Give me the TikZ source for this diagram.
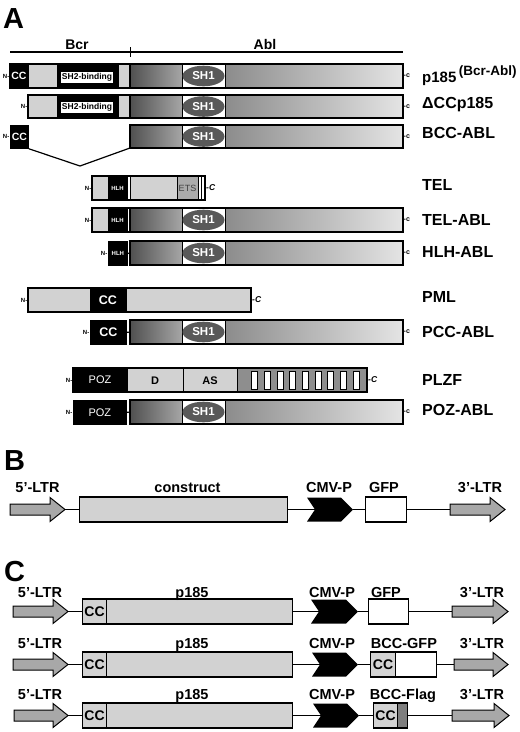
\documentclass[tikz,border=0pt]{standalone}
\usepackage{fontspec}
\setmainfont{Liberation Sans}
\definecolor{lgray}{HTML}{D2D2D2}
\definecolor{ablA}{HTML}{505050}
\definecolor{ablB}{HTML}{A6A6A6}
\definecolor{ablC}{HTML}{8C8C8C}
\definecolor{ablD}{HTML}{E4E4E4}
\definecolor{shgray}{HTML}{595959}
\definecolor{etsgray}{HTML}{ABABAB}
\definecolor{zfgray}{HTML}{8E8E8E}
\definecolor{ltrgray}{HTML}{A8A8A8}
\definecolor{flaggray}{HTML}{7E7E7E}
\tikzset{
  seg/.style={draw=black, line width=0.7pt},
  outline/.style={draw=black, line width=1.3pt},
  conn/.style={draw=black, line width=1.7pt},
  biglet/.style={anchor=base west, inner sep=0pt, font=\fontsize{29}{29}\selectfont\bfseries},
  hdr/.style={anchor=base, inner sep=0pt, font=\fontsize{14}{14}\selectfont\bfseries},
  lab/.style={anchor=base west, inner sep=0pt, font=\fontsize{16}{16}\selectfont\bfseries},
  clab/.style={anchor=base, inner sep=0pt, font=\fontsize{14.5}{14.5}\selectfont\bfseries},
  nterm/.style={anchor=east, inner sep=0.5pt, font=\fontsize{6}{6}\selectfont\bfseries},
  cterm/.style={anchor=west, inner sep=0.5pt, font=\fontsize{7}{7}\selectfont\bfseries},
  ctermC/.style={anchor=west, inner sep=1pt, font=\fontsize{8.5}{8.5}\selectfont\bfseries\itshape},
  shtxt/.style={inner sep=0pt, text=white, font=\fontsize{11.5}{11.5}\selectfont\bfseries},
  sh2box/.style={fill=white, inner sep=0pt, minimum width=52pt, minimum height=11pt, font=\fontsize{8.5}{8.5}\selectfont\bfseries},
  cctxt/.style={inner sep=0pt, text=white, font=\fontsize{10.5}{10.5}\selectfont\bfseries},
  bigcc/.style={inner sep=0pt, text=white, font=\fontsize{12.5}{12.5}\selectfont\bfseries},
  hlhtxt/.style={inner sep=0pt, text=white, font=\fontsize{6}{6}\selectfont\bfseries},
  etstxt/.style={inner sep=0pt, text=black!75, font=\fontsize{9}{9}\selectfont},
  poztxt/.style={inner sep=0pt, text=white, font=\fontsize{11}{11}\selectfont},
  dtxt/.style={inner sep=0pt, text=black, font=\fontsize{11}{11}\selectfont\bfseries},
  blkbox/.style={draw=black, fill=black, line width=0.7pt, inner sep=0pt, anchor=north west},
  gbox/.style={draw=black, line width=1.2pt, fill=lgray, inner sep=0pt, minimum height=25pt, anchor=west},
  wbox/.style={draw=black, line width=1.2pt, fill=white, inner sep=0pt, minimum height=25pt, anchor=west},
  ltrsty/.style={draw=black, line width=1pt, fill=ltrgray},
}
\newcommand\ablbar[3]{%
  \shade[left color=ablA, right color=ablB] (130,#2) rectangle (182,#3);
  \fill[white] (182,#2) rectangle (225,#3);
  \shade[left color=ablC, right color=ablD] (225,#2) rectangle (403,#3);
  \draw[seg] (182,#2) -- (182,#3) (225,#2) -- (225,#3);
  \fill[shgray] (203.5,{(#2+#3)/2}) ellipse [x radius=21pt, y radius=10.3pt];
  \node[shtxt] (#1-sh1) at (203.5,{(#2+#3)/2}) {SH1};
  \draw[outline] (130,#2) rectangle (403,#3);
  \coordinate (#1-w) at (130,{(#2+#3)/2});
  \coordinate (#1-sw) at (130,#3);
}
\newcommand\ltrarrow[4]{%
  \draw[ltrsty] (#2,{#4-5.5}) -- ({#3-15},{#4-5.5}) -- ({#3-15},{#4-12}) -- (#3,#4)
    -- ({#3-15},{#4+12}) -- ({#3-15},{#4+5.5}) -- (#2,{#4+5.5}) -- cycle;
  \coordinate (#1-w) at (#2,#4);
  \coordinate (#1-e) at (#3,#4);
}
\newcommand\cmvp[4]{%
  \fill[black] (#2,{#4-12}) -- ({#3-12},{#4-12}) -- (#3,#4) -- ({#3-12},{#4+12})
    -- (#2,{#4+12}) -- ({#2+8},#4) -- cycle;
  \coordinate (#1-w) at ({#2+8},#4);
  \coordinate (#1-e) at (#3,#4);
}
\begin{document}
\begin{tikzpicture}[x=1pt,y=-1pt]
\useasboundingbox (0,0) rectangle (520,732);
\fill[white] (0,0) rectangle (520,732);

% ================= A =================
\node[biglet] (Alet) at (3,28) {A};
\coordinate (bl0) at (10,52);
\coordinate (bl1) at (403,52);
\draw[line width=1.8pt] (bl0) -- (bl1);
\draw[line width=1pt] (130,47) -- (130,57);
\node[hdr] (bcr) at (77,49) {Bcr};
\node[hdr] (abl) at (265,49) {Abl};

% Row 1 p185
\draw[seg,fill=black] (10,64) rectangle (28,88);
\draw[seg,fill=lgray] (28,64) rectangle (57,88);
\draw[seg,fill=black] (57,64) rectangle (118,88);
\draw[seg,fill=lgray] (118,64) rectangle (130,88);
\node[sh2box] (r1sh2) at (87,77.5) {SH2-binding};
\ablbar{r1}{64}{88}
\draw[outline] (10,64) rectangle (403,88);
\node[cctxt] (r1cc) at (19,76) {CC};
\node[nterm] (r1n) at (10,76) {N-};
\node[cterm] (r1c) at (403,76) {-c};
\node[lab] (r1lab) at (422,82) {\fontsize{15}{15}\selectfont p185\,\raisebox{7pt}{\fontsize{13.5}{13.5}\selectfont(Bcr-Abl)}};

% Row 2 dCCp185
\draw[seg,fill=lgray] (28,95) rectangle (57,118);
\draw[seg,fill=black] (57,95) rectangle (118,118);
\draw[seg,fill=lgray] (118,95) rectangle (130,118);
\node[sh2box] (r2sh2) at (87,107.5) {SH2-binding};
\ablbar{r2}{95}{118}
\draw[outline] (28,95) rectangle (403,118);
\node[nterm] (r2n) at (28,106.5) {N-};
\node[cterm] (r2c) at (403,106.5) {-c};
\node[lab] (r2lab) at (422,108) {ΔCCp185};

% Row 3 BCC-ABL
\node[blkbox, minimum width=18pt, minimum height=23pt, text=white, font=\fontsize{10.5}{10.5}\selectfont\bfseries] (r3cc) at (10,125) {CC};
\ablbar{r3}{125}{148}
\coordinate (r3v) at (80,166);
\draw[line width=1.2pt] (r3cc.south east) -- (r3v) -- (r3-sw);
\node[nterm] (r3n) at (10,136.5) {N-};
\node[cterm] (r3c) at (403,136.5) {-c};
\node[lab] (r3lab) at (422,138) {BCC-ABL};

% TEL
\draw[seg,fill=lgray] (92,176) rectangle (108,200);
\draw[seg,fill=black] (108,176) rectangle (127,200);
\draw[seg,fill=white] (127,176) rectangle (130,200);
\draw[seg,fill=lgray] (130,176) rectangle (177,200);
\draw[seg,fill=etsgray] (177,176) rectangle (198,200);
\draw[seg,fill=white] (198,176) rectangle (205,200);
\draw[line width=1pt] (201.5,176) -- (201.5,200);
\draw[outline] (92,176) rectangle (205,200);
\node[hlhtxt] (telhlh) at (117.5,188) {HLH};
\node[etstxt] (telets) at (187.5,188) {ETS};
\node[nterm] (teln) at (92,188) {N-};
\node[ctermC] (telc) at (205,188) {-C};
\node[lab] (tellab) at (422,190) {TEL};

% TEL-ABL
\draw[seg,fill=lgray] (92,208) rectangle (108,232);
\draw[seg,fill=black] (108,208) rectangle (127,232);
\draw[seg,fill=white] (127,208) rectangle (130,232);
\ablbar{r5}{208}{232}
\draw[outline] (92,208) rectangle (403,232);
\node[hlhtxt] (r5hlh) at (117.5,220) {HLH};
\node[nterm] (r5n) at (92,220) {N-};
\node[cterm] (r5c) at (403,220) {-c};
\node[lab] (r5lab) at (422,225) {TEL-ABL};

% HLH-ABL
\node[blkbox, minimum width=19pt, minimum height=24pt, text=white, font=\fontsize{6}{6}\selectfont\bfseries] (r6hlh) at (108,241) {HLH};
\ablbar{r6}{241}{265}
\draw[line width=1.2pt] (r6hlh.east) -- (r6-w);
\node[nterm] (r6n) at (108,253) {N-};
\node[cterm] (r6c) at (403,253) {-c};
\node[lab] (r6lab) at (422,257) {HLH-ABL};

% PML
\draw[seg,fill=lgray] (28,288) rectangle (90,312);
\draw[seg,fill=black] (90,288) rectangle (126,312);
\draw[seg,fill=lgray] (126,288) rectangle (251,312);
\draw[outline] (28,288) rectangle (251,312);
\node[bigcc] (pmlcc) at (108,300) {CC};
\node[nterm] (pmln) at (28,300) {N-};
\node[ctermC] (pmlc) at (251,300) {-C};
\node[lab] (pmllab) at (422,302) {PML};

% PCC-ABL
\node[blkbox, minimum width=36pt, minimum height=24pt, text=white, font=\fontsize{12.5}{12.5}\selectfont\bfseries] (r8cc) at (90,320) {CC};
\ablbar{r8}{320}{344}
\draw[line width=1.2pt] (r8cc.east) -- (r8-w);
\node[nterm] (r8n) at (90,332) {N-};
\node[cterm] (r8c) at (403,332) {-c};
\node[lab] (r8lab) at (422,337) {PCC-ABL};

% PLZF
\draw[seg,fill=black] (73,368) rectangle (127,392);
\draw[seg,fill=lgray] (127,368) rectangle (183,392);
\draw[seg,fill=lgray] (183,368) rectangle (237,392);
\draw[seg,fill=zfgray] (237,368) rectangle (367,392);
\foreach \i in {0,...,8} {
  \draw[line width=0.7pt, fill=white] ({251.5+12.7*\i},371) rectangle ({257.5+12.7*\i},389);
}
\draw[outline] (73,368) rectangle (367,392);
\node[poztxt] (plzfpoz) at (100,380) {POZ};
\node[dtxt] (plzfd) at (155,381) {D};
\node[dtxt] (plzfas) at (210,381) {AS};
\node[nterm] (plzfn) at (73,380) {N-};
\node[ctermC] (plzfc) at (367,380) {-C};
\node[lab] (plzflab) at (422,385) {PLZF};

% POZ-ABL
\node[blkbox, minimum width=53pt, minimum height=24pt, text=white, font=\fontsize{11}{11}\selectfont] (r10poz) at (73,400) {POZ};
\ablbar{r10}{400}{424}
\draw[line width=1.2pt] (r10poz.east) -- (r10-w);
\node[nterm] (r10n) at (73,412) {N-};
\node[cterm] (r10c) at (403,412) {-c};
\node[lab] (r10lab) at (422,415) {POZ-ABL};

% ================= B =================
\node[biglet] (Blet) at (4,470) {B};
\ltrarrow{b5}{10}{65}{509.5}
\node[gbox, minimum width=208pt] (bcon) at (79,509.5) {};
\cmvp{bcmv}{307}{353}{509.5}
\node[wbox, minimum width=41pt] (bgfp) at (365,509.5) {};
\ltrarrow{b3}{450}{505}{509.5}
\draw[conn] (b5-e) -- (bcon.west);
\draw[conn] (bcon.east) -- (bcmv-w);
\draw[conn] (bcmv-e) -- (bgfp.west);
\draw[conn] (bgfp.east) -- (b3-w);
\node[clab] (bl1t) at (37.5,492) {5'-LTR};
\node[clab] (bl2t) at (187.5,492) {construct};
\node[clab] (bl3t) at (329,492) {CMV-P};
\node[clab] (bl4t) at (384,492) {GFP};
\node[clab] (bl5t) at (480,492) {3'-LTR};

% ================= C =================
\node[biglet] (Clet) at (4,581) {C};

% row 1
\ltrarrow{c15}{13}{68}{611.5}
\node[gbox, minimum width=24pt, font=\fontsize{14}{14}\selectfont\bfseries] (c1cc) at (82,611.5) {CC};
\node[gbox, minimum width=186pt] (c1box) at (106,611.5) {};
\cmvp{c1cmv}{311}{358}{611.5}
\node[wbox, minimum width=40pt] (c1gfp) at (368,611.5) {};
\ltrarrow{c13}{452}{508}{611.5}
\draw[conn] (c15-e) -- (c1cc.west);
\draw[conn] (c1box.east) -- (c1cmv-w);
\draw[conn] (c1cmv-e) -- (c1gfp.west);
\draw[conn] (c1gfp.east) -- (c13-w);
\node[clab] (c1t1) at (40,597) {5'-LTR};
\node[clab] (c1t2) at (192,597) {p185};
\node[clab] (c1t3) at (332,597) {CMV-P};
\node[clab] (c1t4) at (386,597) {GFP};
\node[clab] (c1t5) at (482,597) {3'-LTR};

% row 2
\ltrarrow{c25}{13}{68}{664.5}
\node[gbox, minimum width=24pt, font=\fontsize{14}{14}\selectfont\bfseries] (c2cc) at (82,664.5) {CC};
\node[gbox, minimum width=186pt] (c2box) at (106,664.5) {};
\cmvp{c2cmv}{312}{358}{664.5}
\node[gbox, minimum width=25pt, font=\fontsize{14}{14}\selectfont\bfseries] (c2bcc) at (370,664.5) {CC};
\node[wbox, minimum width=41pt] (c2gfp) at (395,664.5) {};
\ltrarrow{c23}{454}{508}{664.5}
\draw[conn] (c25-e) -- (c2cc.west);
\draw[conn] (c2box.east) -- (c2cmv-w);
\draw[conn] (c2cmv-e) -- (c2bcc.west);
\draw[conn] (c2gfp.east) -- (c23-w);
\node[clab] (c2t1) at (40,648) {5'-LTR};
\node[clab] (c2t2) at (192,648) {p185};
\node[clab] (c2t3) at (332,648) {CMV-P};
\node[clab] (c2t4) at (404,648) {BCC-GFP};
\node[clab] (c2t5) at (482,648) {3'-LTR};

% row 3
\ltrarrow{c35}{14}{68}{715.5}
\node[gbox, minimum width=24pt, font=\fontsize{14}{14}\selectfont\bfseries] (c3cc) at (82,715.5) {CC};
\node[gbox, minimum width=186pt] (c3box) at (106,715.5) {};
\cmvp{c3cmv}{313}{359}{715.5}
\node[gbox, minimum width=24pt, font=\fontsize{14}{14}\selectfont\bfseries] (c3bcc) at (373,715.5) {CC};
\node[gbox, minimum width=10pt, fill=flaggray] (c3flag) at (397,715.5) {};
\ltrarrow{c33}{452}{509}{715.5}
\draw[conn] (c35-e) -- (c3cc.west);
\draw[conn] (c3box.east) -- (c3cmv-w);
\draw[conn] (c3cmv-e) -- (c3bcc.west);
\draw[conn] (c3flag.east) -- (c33-w);
\node[clab] (c3t1) at (40,699) {5'-LTR};
\node[clab] (c3t2) at (192,699) {p185};
\node[clab] (c3t3) at (332,699) {CMV-P};
\node[clab] (c3t4) at (403,699) {BCC-Flag};
\node[clab] (c3t5) at (482,699) {3'-LTR};
\end{tikzpicture}
\end{document}
